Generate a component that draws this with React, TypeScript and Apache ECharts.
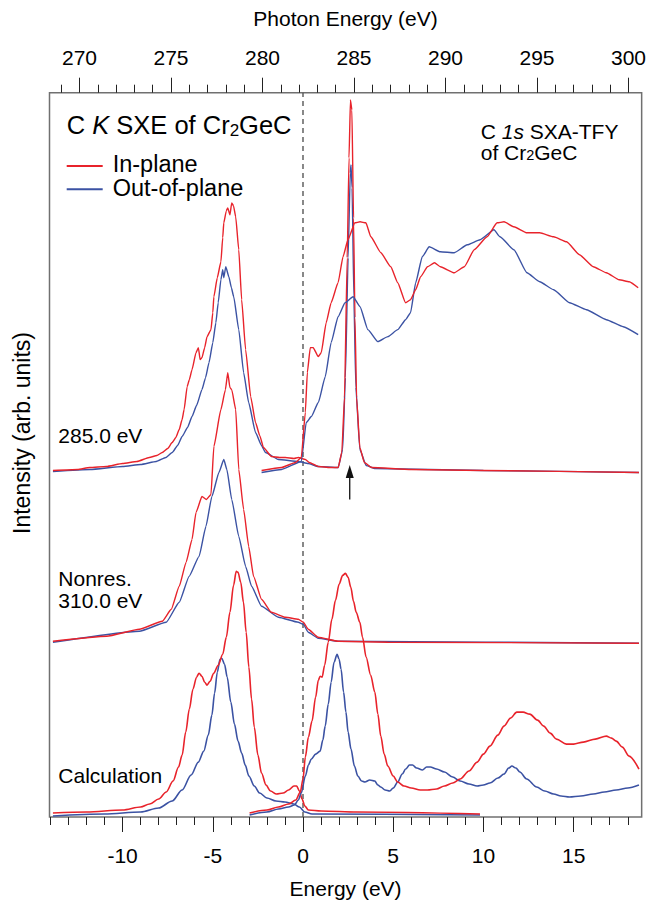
import React, { useEffect, useRef } from 'react';
import * as echarts from 'echarts';

const RED = '#e8232b';
const BLUE = '#3b52a3';
const FONT = '"Liberation Sans", Arial, Helvetica, sans-serif';

// axis ranges and tick labels
const ENERGY_RANGE = [-14.05, 18.77];
const PHOTON_RANGE = [268.36, 300.72];
const ENERGY_TICKS = [-10, -5, 0, 5, 10, 15];
const ENERGY_MINOR = [-14, -13, -12, -11, -9, -8, -7, -6, -4, -3, -2, -1, 1, 2, 3, 4, 6, 7, 8, 9, 11, 12, 13, 14, 16, 17, 18];
const PHOTON_TICKS = [270, 275, 280, 285, 290, 295, 300];
const PHOTON_MINOR = [269, 271, 272, 273, 274, 276, 277, 278, 279, 281, 282, 283, 284, 286, 287, 288, 289, 291, 292, 293, 294, 296, 297, 298, 299];
const Y_MAX = 725.3;

// C K SXE excited at 285.0 eV (energy, intensity)
const sxe285InPlane = [
  [-13.86, 347], [-12.5, 348], [-11.82, 350], [-10.9, 351], [-10.0, 354], [-9.2, 356], [-8.52, 360], [-8.1, 362],
  [-7.8, 365], [-7.5, 369], [-7.25, 375], [-7.05, 380], [-6.86, 388], [-6.7, 398], [-6.59, 408], [-6.42, 431],
  [-6.3, 438], [-6.15, 448], [-5.93, 465], [-5.8, 470], [-5.7, 458], [-5.6, 460], [-5.45, 470], [-5.32, 481],
  [-5.1, 488], [-5.0, 505], [-4.94, 521], [-4.75, 540], [-4.55, 556], [-4.45, 580], [-4.39, 595], [-4.25, 607],
  [-4.17, 610], [-4.05, 603], [-3.95, 615], [-3.85, 612], [-3.73, 601], [-3.56, 568], [-3.4, 518], [-3.18, 468],
  [-2.9, 421], [-2.63, 395], [-2.4, 382], [-2.19, 370], [-1.75, 361], [-1.3, 360], [-0.97, 360], [-0.5, 359],
  [-0.26, 360], [0.13, 358], [0.35, 355], [0.84, 351], [1.5, 350], [1.95, 350], [2.15, 365], [2.3, 420],
  [2.45, 560], [2.55, 660], [2.63, 718], [2.71, 708], [2.8, 600], [2.88, 500], [2.97, 420], [3.15, 370],
  [3.4, 355], [3.8, 350], [6.0, 348], [10, 347], [18.62, 345],
];
const sxe285OutOfPlane = [
  [-13.86, 346], [-11.8, 348], [-10.0, 351], [-9.0, 353], [-8.13, 356], [-7.6, 360], [-7.25, 365], [-6.95, 372],
  [-6.7, 381], [-6.4, 390], [-6.15, 401], [-5.9, 412], [-5.6, 428], [-5.4, 440], [-5.21, 455], [-5.0, 475],
  [-4.83, 495], [-4.7, 515], [-4.55, 538], [-4.45, 548], [-4.39, 540], [-4.28, 551], [-4.11, 541], [-3.97, 530],
  [-3.84, 521], [-3.56, 488], [-3.29, 445], [-3.01, 415], [-2.63, 385], [-2.3, 372], [-2.08, 365], [-1.36, 358],
  [-0.26, 356], [0.29, 354], [0.84, 351], [1.95, 350], [2.2, 368], [2.35, 440], [2.5, 560], [2.62, 645],
  [2.66, 653], [2.72, 630], [2.82, 520], [2.93, 430], [3.15, 368], [3.5, 352], [4.0, 349], [10, 347], [18.62, 345],
];

// C K SXE non-resonant, 310.0 eV
const sxe310InPlane = [
  [-13.86, 176], [-10.88, 181], [-9.07, 188], [-7.8, 196], [-7.3, 208], [-6.86, 231], [-6.48, 255], [-6.15, 278],
  [-5.93, 305], [-5.6, 321], [-5.35, 318], [-5.1, 323], [-4.94, 371], [-4.55, 408], [-4.3, 428], [-4.17, 445],
  [-4.05, 430], [-3.95, 428], [-3.73, 408], [-3.56, 348], [-3.29, 308], [-3.01, 271], [-2.74, 241], [-2.3, 218],
  [-1.75, 205], [-0.97, 200], [-0.26, 198], [0.02, 195], [0.29, 188], [0.84, 180], [1.95, 176], [4.7, 175], [18.62, 174],
];
const sxe310OutOfPlane = [
  [-13.86, 175], [-9.07, 186], [-7.58, 195], [-6.86, 215], [-6.31, 241], [-5.76, 261], [-5.38, 291], [-5.05, 321],
  [-4.66, 345], [-4.39, 358], [-4.22, 348], [-3.95, 318], [-3.56, 281], [-3.18, 251], [-2.85, 231], [-2.3, 211],
  [-1.36, 200], [-0.26, 195], [0.02, 193], [0.29, 185], [0.84, 179], [1.95, 176], [18.62, 174],
];

// C 1s SXA-TFY (photon energy, intensity)
const xasInPlane = [
  [279.95, 347], [281.04, 350], [281.8, 355], [282.12, 360], [282.34, 405], [282.45, 445], [282.61, 470], [282.77, 470],
  [283.05, 461], [283.21, 465], [283.48, 495], [283.75, 515], [284.13, 535], [284.4, 561], [284.67, 578], [285.05, 595],
  [285.33, 596], [285.65, 595], [285.92, 581], [286.47, 565], [287.01, 551], [287.39, 535], [287.82, 515], [288.09, 518],
  [288.37, 528], [288.64, 541], [289.02, 551], [289.4, 555], [289.72, 551], [290.48, 545], [291.03, 551], [291.57, 568],
  [292.27, 581], [292.82, 595], [293.2, 596], [293.74, 591], [294.45, 585], [295.15, 585], [295.91, 581], [296.62, 576],
  [297.32, 563], [298.08, 551], [298.79, 545], [299.49, 538], [300.04, 536], [300.53, 530],
];
const xasOutOfPlane = [
  [279.95, 345], [281.04, 348], [282.12, 356], [282.39, 395], [282.67, 401], [283.05, 415], [283.43, 441], [283.75, 475],
  [284.13, 501], [284.51, 515], [284.95, 521], [285.33, 511], [285.76, 488], [286.3, 476], [286.85, 481], [287.39, 488],
  [287.82, 498], [288.09, 505], [288.37, 535], [288.73, 561], [289.11, 571], [289.72, 566], [290.48, 565], [291.19, 573],
  [291.89, 578], [292.65, 588], [292.98, 581], [293.74, 568], [294.45, 545], [295.15, 536], [295.91, 528], [296.78, 515],
  [297.7, 508], [298.79, 498], [299.71, 491], [300.53, 483],
];

// Calculation: emission part
const calcSxeInPlane = [
  [-13.86, 4], [-12, 5], [-10, 7], [-9, 10], [-8.5, 13], [-8, 18], [-7.58, 25], [-7.2, 36], [-6.9, 50], [-6.7, 62],
  [-6.5, 85], [-6.3, 108], [-6.1, 128], [-5.9, 140], [-5.76, 144], [-5.6, 141], [-5.45, 135], [-5.32, 132], [-5.15, 136],
  [-4.95, 144], [-4.7, 152], [-4.45, 163], [-4.25, 180], [-4.05, 205], [-3.85, 232], [-3.7, 246], [-3.6, 245],
  [-3.45, 235], [-3.3, 215], [-3.15, 185], [-3.0, 150], [-2.85, 118], [-2.7, 90], [-2.5, 62], [-2.3, 44], [-2.05, 32],
  [-1.8, 26], [-1.47, 23], [-1.1, 24], [-0.8, 27], [-0.5, 31], [-0.35, 31], [-0.2, 26], [-0.05, 18], [0.1, 11],
  [0.3, 7], [1, 6], [3, 5], [9.81, 3],
];
const calcSxeOutOfPlane = [
  [-13.86, 1], [-11, 3], [-9, 5], [-8, 9], [-7.25, 16], [-6.7, 27], [-6.2, 42], [-5.8, 55], [-5.5, 66], [-5.25, 82],
  [-5.05, 102], [-4.9, 124], [-4.75, 145], [-4.6, 158], [-4.5, 159], [-4.35, 153], [-4.2, 140], [-4.0, 115], [-3.8, 93],
  [-3.6, 76], [-3.4, 64], [-3.2, 52], [-3.0, 41], [-2.7, 31], [-2.4, 24], [-2, 19], [-1.5, 16], [-1, 15], [-0.5, 13],
  [-0.2, 10], [0.1, 5], [0.5, 3], [9.81, 2],
];
// Calculation: absorption part
const calcXasInPlane = [
  [-2.96, 4], [-2, 7], [-1.36, 10], [-0.8, 13], [-0.4, 17], [-0.15, 25], [0, 38], [0.13, 60], [0.3, 80], [0.5, 96],
  [0.7, 120], [0.85, 137], [0.95, 141], [1.06, 140], [1.2, 152], [1.4, 175], [1.6, 198], [1.8, 217], [2.0, 233],
  [2.2, 242], [2.35, 244], [2.5, 240], [2.65, 230], [2.8, 216], [2.95, 205], [3.15, 195], [3.3, 180], [3.5, 160],
  [3.75, 142], [3.98, 125], [4.15, 103], [4.31, 81], [4.5, 63], [4.7, 51], [5.0, 41], [5.25, 35], [5.6, 31], [6.0, 29],
  [6.5, 27], [6.9, 27], [7.4, 28], [7.84, 31], [8.3, 34], [8.71, 38], [9.2, 46], [9.65, 55], [10.0, 63], [10.36, 71],
  [10.8, 82], [11.14, 91], [11.5, 99], [11.85, 105], [12.2, 105], [12.57, 103], [13.0, 97], [13.34, 91], [13.7, 84],
  [14.05, 78], [14.6, 73], [15.0, 73], [15.54, 75], [16.2, 78], [16.81, 81], [17.1, 79], [17.36, 76], [17.7, 70],
  [18.07, 61], [18.62, 48],
];
const calcXasOutOfPlane = [
  [-2.96, 2], [-2, 5], [-1.36, 8], [-0.8, 10], [-0.48, 12], [-0.26, 17], [-0.1, 24], [0.13, 41], [0.3, 52], [0.46, 58],
  [0.7, 63], [0.95, 66], [1.1, 77], [1.23, 91], [1.4, 113], [1.56, 135], [1.72, 155], [1.89, 163], [2.0, 158],
  [2.11, 148], [2.25, 125], [2.38, 105], [2.5, 85], [2.66, 68], [2.85, 51], [3.04, 41], [3.25, 36], [3.43, 35],
  [3.7, 37], [3.98, 36], [4.15, 32], [4.31, 30], [4.55, 27], [4.81, 26], [5.0, 29], [5.25, 35], [5.5, 43], [5.69, 48],
  [5.9, 52], [6.07, 52], [6.3, 49], [6.62, 47], [6.85, 50], [7.06, 50], [7.4, 48], [7.84, 45], [8.3, 40], [8.71, 36],
  [9.2, 33], [9.65, 31], [10.0, 32], [10.36, 34], [10.8, 39], [11.14, 43], [11.4, 49], [11.58, 51], [11.8, 49],
  [12.02, 45], [12.4, 38], [12.95, 30], [13.4, 26], [13.89, 23], [14.3, 21], [14.77, 20], [15.4, 21], [16.09, 23],
  [16.7, 25], [17.36, 27], [18.0, 29], [18.62, 32],
];

const EXCITATION_ENERGY = 2.59; // 285.0 eV on the emission energy scale
const ARROW = [318, 346];

function curve(name: string, data: number[][], color: string, xAxisIndex: number, width: number, smooth: number) {
  return {
    type: 'line',
    name,
    data,
    xAxisIndex,
    yAxisIndex: 0,
    showSymbol: false,
    symbol: 'none',
    smooth,
    smoothMonotone: 'x',
    lineStyle: { color, width },
    itemStyle: { color },
    silent: true,
  };
}

function xAxisDef(range: number[], position: string, major: number[] | null, minor: number[], extra: any) {
  return {
    type: 'value',
    position,
    min: range[0],
    max: range[1],
    axisLine: { show: false },
    splitLine: { show: false },
    axisTick: {
      show: true,
      inside: false,
      length: major ? 15 : 8,
      customValues: major || minor,
      lineStyle: { color: '#222', width: 1 },
    },
    axisLabel: major
      ? { show: true, customValues: major, fontSize: 21, color: '#000', fontFamily: FONT, margin: position === 'top' ? 25 : 28 }
      : { show: false },
    ...extra,
  };
}

function label(text: string, y: number) {
  return {
    type: 'text', x: 58.3, y, silent: true,
    style: { text, fontSize: 21, fontFamily: FONT, fill: '#000', align: 'left', verticalAlign: 'middle' },
  };
}

export default function App() {
  const ref = useRef<HTMLDivElement>(null);
  useEffect(() => {
    const chart = echarts.init(ref.current!, null, { renderer: 'svg' });
    const option: any = {
      animation: false,
      textStyle: { fontFamily: FONT },
      grid: {
        left: 49.5, right: 3.3, top: 92.7, bottom: 86,
        show: true, borderColor: '#707070', borderWidth: 1.5, backgroundColor: 'transparent',
      },
      xAxis: [
        xAxisDef(ENERGY_RANGE, 'bottom', ENERGY_TICKS, [], {
          name: 'Energy (eV)', nameLocation: 'middle', nameGap: 61,
          nameTextStyle: { fontSize: 21, color: '#000', fontFamily: FONT },
        }),
        xAxisDef(ENERGY_RANGE, 'bottom', null, ENERGY_MINOR, {}),
        xAxisDef(PHOTON_RANGE, 'top', PHOTON_TICKS, [], {
          name: 'Photon Energy (eV)', nameLocation: 'middle', nameGap: 64,
          nameTextStyle: { fontSize: 21, color: '#000', fontFamily: FONT },
        }),
        xAxisDef(PHOTON_RANGE, 'top', null, PHOTON_MINOR, {}),
      ],
      yAxis: [{
        type: 'value', min: 0, max: Y_MAX,
        axisLine: { show: false }, axisTick: { show: false }, axisLabel: { show: false }, splitLine: { show: false },
      }],
      series: [
        {
          type: 'line', name: 'zero', data: [[0, 0], [0, Y_MAX]], xAxisIndex: 0, symbol: 'none', silent: true,
          lineStyle: { color: '#555', width: 1.4, type: [5, 4] },
        },
        curve('Out-of-plane', sxe285OutOfPlane, BLUE, 0, 1.4, 0.15),
        curve('In-plane', sxe285InPlane, RED, 0, 1.4, 0.15),
        curve('Out-of-plane', xasOutOfPlane, BLUE, 2, 1.4, 0.15),
        curve('In-plane', xasInPlane, RED, 2, 1.4, 0.15),
        curve('Out-of-plane', sxe310OutOfPlane, BLUE, 0, 1.4, 0.15),
        curve('In-plane', sxe310InPlane, RED, 0, 1.4, 0.15),
        curve('Out-of-plane', calcSxeOutOfPlane, BLUE, 0, 1.6, 0.3),
        curve('In-plane', calcSxeInPlane, RED, 0, 1.6, 0.3),
        curve('Out-of-plane', calcXasOutOfPlane, BLUE, 0, 1.6, 0.3),
        curve('In-plane', calcXasInPlane, RED, 0, 1.6, 0.3),
        {
          type: 'line', name: 'excitation', xAxisIndex: 0, silent: true, showSymbol: true, symbol: 'none',
          lineStyle: { color: '#111', width: 1.3 }, itemStyle: { color: '#111' },
          data: [
            { value: [EXCITATION_ENERGY, ARROW[0]], symbol: 'none' },
            { value: [EXCITATION_ENERGY, ARROW[1]], symbol: 'triangle', symbolSize: [8, 13] },
          ],
        },
      ],
      graphic: [
        {
          type: 'text', x: 66.7, y: 125, silent: true,
          style: {
            text: '{n|C }{i|K}{n| SXE of Cr}{s|2}{n|GeC}',
            align: 'left', verticalAlign: 'middle', fill: '#000',
            rich: {
              n: { fontSize: 25.5, lineHeight: 28, fontFamily: FONT, fill: '#000' },
              i: { fontSize: 25.5, lineHeight: 28, fontStyle: 'italic', fontFamily: FONT, fill: '#000' },
              s: { fontSize: 17, lineHeight: 12, verticalAlign: 'bottom', fontFamily: FONT, fill: '#000' },
            },
          },
        },
        { type: 'line', silent: true, shape: { x1: 66.7, y1: 166, x2: 102.7, y2: 166 }, style: { stroke: RED, lineWidth: 2 } },
        { type: 'line', silent: true, shape: { x1: 66.7, y1: 189.3, x2: 102.7, y2: 189.3 }, style: { stroke: BLUE, lineWidth: 2 } },
        { type: 'text', x: 112.7, y: 163.7, silent: true, style: { text: 'In-plane', fontSize: 23.5, fontFamily: FONT, fill: '#000', align: 'left', verticalAlign: 'middle' } },
        { type: 'text', x: 112.7, y: 187.5, silent: true, style: { text: 'Out-of-plane', fontSize: 23.5, fontFamily: FONT, fill: '#000', align: 'left', verticalAlign: 'middle' } },
        {
          type: 'text', x: 480.7, y: 131.5, silent: true,
          style: {
            text: '{n|C }{i|1s}{n| SXA-TFY}',
            align: 'left', verticalAlign: 'middle', fill: '#000',
            rich: {
              n: { fontSize: 21, lineHeight: 20, fontFamily: FONT, fill: '#000' },
              i: { fontSize: 21, lineHeight: 20, fontStyle: 'italic', fontFamily: FONT, fill: '#000' },
            },
          },
        },
        {
          type: 'text', x: 480.7, y: 152.5, silent: true,
          style: {
            text: '{n|of Cr}{s|2}{n|GeC}',
            align: 'left', verticalAlign: 'middle', fill: '#000',
            rich: {
              n: { fontSize: 21, lineHeight: 20, fontFamily: FONT, fill: '#000' },
              s: { fontSize: 14.5, lineHeight: 8, verticalAlign: 'bottom', fontFamily: FONT, fill: '#000' },
            },
          },
        },
        label('285.0 eV', 435),
        label('Nonres.', 578.8),
        label('310.0 eV', 600.6),
        label('Calculation', 775),
        {
          type: 'text', x: 22, y: 433, rotation: Math.PI / 2, silent: true,
          style: { text: 'Intensity (arb. units)', fontSize: 23, fontFamily: FONT, fill: '#000', align: 'center', verticalAlign: 'middle' },
        },
      ],
    };
    chart.setOption(option);
    return () => chart.dispose();
  }, []);
  return <div ref={ref} style={{ position: 'fixed', left: 0, top: 0, width: 649, height: 904, background: '#fff' }} />;
}
